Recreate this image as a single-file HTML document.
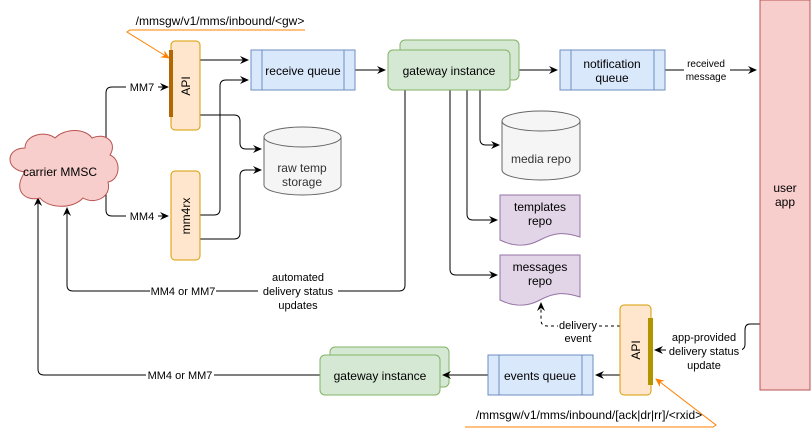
<!DOCTYPE html>
<html><head><meta charset="utf-8"><style>
html,body{margin:0;padding:0;background:#fff}
svg{display:block;font-family:"Liberation Sans",Helvetica,sans-serif}
</style></head><body>
<svg width="811" height="434" viewBox="0 0 811 434" xmlns="http://www.w3.org/2000/svg">
<defs>
<marker id="a" markerWidth="10" markerHeight="10" refX="8" refY="5" orient="auto" markerUnits="userSpaceOnUse"><path d="M0,1 L9,5 L0,9 L3,5 Z" fill="#000"/></marker>
<marker id="o" markerWidth="10" markerHeight="10" refX="8" refY="5" orient="auto" markerUnits="userSpaceOnUse"><path d="M0,1 L9,5 L0,9 L3,5 Z" fill="#FF8000"/></marker>
</defs>
<g fill="none" stroke="#000" stroke-width="1">
<path d="M106,150 V93 Q106,87 112,87 H168" marker-end="url(#a)"/>
<path d="M106,193 V210 Q106,216 112,216 H168" marker-end="url(#a)"/>
<path d="M200,60 H248" marker-end="url(#a)"/>
<path d="M200,115 H234 Q240,115 240,121 V143 Q240,149 246,149 H261" marker-end="url(#a)"/>
<path d="M200,215 H214 Q220,215 220,209 V86 Q220,80 226,80 H248" marker-end="url(#a)"/>
<path d="M200,239 H234 Q240,239 240,233 V176 Q240,170 246,170 H261" marker-end="url(#a)"/>
<path d="M355,70 H385" marker-end="url(#a)"/>
<path d="M510,70 H557" marker-end="url(#a)"/>
<path d="M665,70 H756" marker-end="url(#a)"/>
<path d="M480,90 V139 Q480,145 486,145 H499" marker-end="url(#a)"/>
<path d="M467,90 V214 Q467,220 473,220 H497" marker-end="url(#a)"/>
<path d="M450,90 V269 Q450,275 456,275 H497" marker-end="url(#a)"/>
<path d="M405,90 V285 Q405,291 399,291 H73 Q67,291 67,285 V208" marker-end="url(#a)"/>
<path d="M320,375 H44 Q38,375 38,369 V198" marker-end="url(#a)"/>
<path d="M620,375 H596" marker-end="url(#a)"/>
<path d="M620,326 H547 Q541,326 541,320 V303" stroke-dasharray="3,3" marker-end="url(#a)"/>
<path d="M760,324 H750 Q745,324 745,330 V344 Q745,350 739,350 H655" marker-end="url(#a)"/>
<path d="M305,30 H130 L127,32 L169,58" stroke="#FF8000" marker-end="url(#o)"/>
<path d="M465,427 H713 L716,425 L656,379" stroke="#FF8000" marker-end="url(#o)"/>
</g>
<path d="M25,172 C5,170 5,148 25,148 C25,135 45,130 55,138 C65,128 85,128 92,138 C105,132 118,142 110,155 C122,160 120,180 108,182 C112,197 95,205 83,198 C72,210 48,208 40,198 C25,202 12,190 25,172 Z" fill="#F8CECC" stroke="#B85450"/>
<text x="60" y="176" font-size="12" text-anchor="middle">carrier MMSC</text>
<rect x="171" y="41" width="29" height="89" rx="4" fill="#FFE6CC" stroke="#D79B00"/>
<rect x="169" y="50" width="4" height="67" fill="#B46504"/>
<text transform="translate(190,86) rotate(-90)" font-size="12" text-anchor="middle">API</text>
<rect x="171" y="171" width="29" height="89" rx="4" fill="#FFE6CC" stroke="#D79B00"/>
<text transform="translate(190,216) rotate(-90)" font-size="12" text-anchor="middle">mm4rx</text>
<rect x="251" y="50" width="104" height="40" fill="#DAE8FC" stroke="#6C8EBF"/>
<path d="M262,50V90M344,50V90" stroke="#6C8EBF"/>
<text x="303" y="75" font-size="12" text-anchor="middle">receive queue</text>
<path d="M264,137 V185 A38.5,10 0 0 0 341,185 V137" fill="#F5F5F5" stroke="#666"/>
<ellipse cx="302.5" cy="137" rx="38.5" ry="10" fill="#F5F5F5" stroke="#666"/>
<text x="302" y="172" font-size="12" fill="#333" text-anchor="middle">raw temp</text>
<text x="302" y="186" font-size="12" fill="#333" text-anchor="middle">storage</text>
<rect x="400" y="40" width="119" height="40" rx="5" fill="#D5E8D4" stroke="#82B366"/>
<rect x="388" y="50" width="122" height="40" rx="5" fill="#D5E8D4" stroke="#82B366"/>
<text x="449" y="75" font-size="12" text-anchor="middle">gateway instance</text>
<rect x="560" y="50" width="105" height="40" fill="#DAE8FC" stroke="#6C8EBF"/>
<path d="M571,50V90M654,50V90" stroke="#6C8EBF"/>
<text x="612" y="68" font-size="12" text-anchor="middle">notification</text>
<text x="612" y="82" font-size="12" text-anchor="middle">queue</text>
<rect x="684" y="58" width="46" height="24" fill="#fff"/>
<text x="706" y="67" font-size="10" text-anchor="middle">received</text>
<text x="706" y="80" font-size="10" text-anchor="middle">message</text>
<rect x="760" y="0" width="50" height="390" fill="#F8CECC" stroke="#B85450"/>
<text x="785" y="192" font-size="12" text-anchor="middle">user</text>
<text x="785" y="206" font-size="12" text-anchor="middle">app</text>
<path d="M502,121 V170 A39,10 0 0 0 580,170 V121" fill="#F5F5F5" stroke="#666"/>
<ellipse cx="541" cy="121" rx="39" ry="10" fill="#F5F5F5" stroke="#666"/>
<text x="541" y="163" font-size="12" fill="#333" text-anchor="middle">media repo</text>
<path d="M500,195 H580 V237 C565,232 555,232 540,240 C525,248 512,246 500,240 Z" fill="#E1D5E7" stroke="#9673A6"/>
<text x="540" y="211" font-size="12" text-anchor="middle">templates</text>
<text x="540" y="225" font-size="12" text-anchor="middle">repo</text>
<path d="M500,255 H580 V297 C565,292 555,292 540,300 C525,308 512,306 500,300 Z" fill="#E1D5E7" stroke="#9673A6"/>
<text x="540" y="271" font-size="12" text-anchor="middle">messages</text>
<text x="540" y="285" font-size="12" text-anchor="middle">repo</text>
<rect x="150" y="284" width="66" height="14" fill="#fff"/>
<text x="183" y="295" font-size="11" text-anchor="middle">MM4 or MM7</text>
<rect x="258" y="270" width="80" height="44" fill="#fff"/>
<text x="298" y="281" font-size="11" text-anchor="middle">automated</text>
<text x="298" y="295" font-size="11" text-anchor="middle">delivery status</text>
<text x="298" y="309" font-size="11" text-anchor="middle">updates</text>
<rect x="126" y="80" width="32" height="14" fill="#fff"/>
<text x="142" y="91" font-size="11" text-anchor="middle">MM7</text>
<rect x="126" y="209" width="32" height="14" fill="#fff"/>
<text x="142" y="220" font-size="11" text-anchor="middle">MM4</text>
<rect x="146" y="368" width="68" height="14" fill="#fff"/>
<text x="180" y="379" font-size="11" text-anchor="middle">MM4 or MM7</text>
<rect x="558" y="317" width="40" height="28" fill="#fff"/>
<text x="578" y="329" font-size="11" text-anchor="middle">delivery</text>
<text x="578" y="342" font-size="11" text-anchor="middle">event</text>
<rect x="666" y="332" width="76" height="40" fill="#fff"/>
<text x="704" y="341" font-size="11" text-anchor="middle">app-provided</text>
<text x="704" y="355" font-size="11" text-anchor="middle">delivery status</text>
<text x="704" y="369" font-size="11" text-anchor="middle">update</text>
<rect x="330" y="347" width="119" height="40" rx="5" fill="#D5E8D4" stroke="#82B366"/>
<rect x="320" y="355" width="120" height="40" rx="5" fill="#D5E8D4" stroke="#82B366"/>
<text x="380" y="380" font-size="12" text-anchor="middle">gateway instance</text>
<path d="M488,375 H443" fill="none" stroke="#000" marker-end="url(#a)"/>
<rect x="488" y="355" width="105" height="40" fill="#DAE8FC" stroke="#6C8EBF"/>
<path d="M499,355V395M582,355V395" stroke="#6C8EBF"/>
<text x="540" y="380" font-size="12" text-anchor="middle">events queue</text>
<rect x="620" y="305" width="31" height="90" rx="4" fill="#FFE6CC" stroke="#D79B00"/>
<rect x="648" y="318" width="5" height="67" fill="#B09500"/>
<text transform="translate(640,350) rotate(-90)" font-size="12" text-anchor="middle">API</text>
<text x="220" y="25" font-size="12" text-anchor="middle">/mmsgw/v1/mms/inbound/&lt;gw&gt;</text>
<text x="589" y="419" font-size="12" text-anchor="middle">/mmsgw/v1/mms/inbound/[ack|dr|rr]/&lt;rxid&gt;</text>
</svg>
</body></html>
